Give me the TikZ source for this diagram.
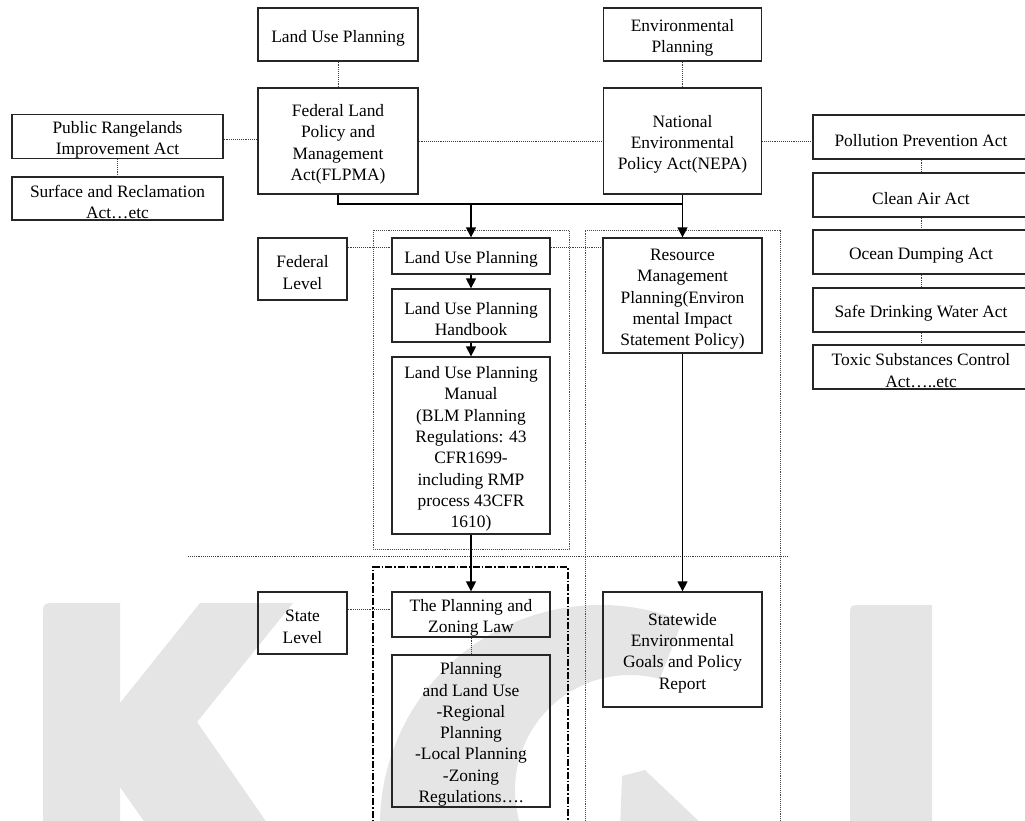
\documentclass[tikz,border=0pt]{standalone}
\usepackage{fontspec}
\setmainfont{Liberation Serif}
\usetikzlibrary{arrows.meta,calc}
\newcommand{\fs}{\rule{0pt}{19pt}}
\begin{document}
\begin{tikzpicture}[x=1pt,y=-1pt,
  box/.style={draw=black!85, line width=1.3pt, align=center, inner sep=0pt,
    font=\fontsize{17.4}{21.3}\selectfont},
  dotline/.style={draw=black!75, line width=0.9pt, densely dotted},
  conn/.style={draw=black, line width=1.4pt},
  arr/.style={conn, -{Triangle[width=10pt,length=10pt]}},
  frame/.style={draw=black!70, line width=0.9pt, densely dotted},
  dashdotframe/.style={draw=black, line width=1.7pt, dash pattern=on 7pt off 2pt on 1.5pt off 2pt},
  wm/.style={fill=gray!20}
]
\useasboundingbox (0,0) rectangle (1025,821);
\clip (0,0) rectangle (1025,821);
% watermark K C I
\fill[wm] (43,830) -- (43,617) .. controls (43,603) .. (57,603) -- (120,603) -- (120,703)
  -- (200,603) -- (293,603) -- (197,722) -- (272,830) -- (150,830) -- (120,787) -- (120,830) -- cycle;
\coordinate (co) at (600,825);
\coordinate (ci) at (630,790);
\fill[wm] ($(co)+(-68:220)$) arc[start angle=-68, end angle=-292, radius=220]
  -- ($(ci)+(-292:115)$) arc[start angle=-292, end angle=-75, radius=115] -- cycle;
\fill[wm] (622,776) -- (645,770) -- (708,830) -- (620,830) -- cycle;
\fill[wm] (850,830) -- (850,617) .. controls (850,605) .. (862,605) -- (932,605) -- (932,830) -- cycle;

% frames
\draw[frame] (373,230) rectangle (569,549);
\draw[frame] (585,830) -- (585,230) -- (780,230) -- (780,830);
\draw[dotline] (188,556) -- (787,556);
\draw[dashdotframe] (373,830) -- (373,567) -- (568,567) -- (568,830);

% nodes
\node[box, minimum width=160, minimum height=53] (lup0) at (338,34.5) {\fs Land Use Planning};
\node[box, minimum width=158, minimum height=53] (envp) at (682.5,34.5) {\fs Environmental\\Planning};
\node[box, minimum width=160, minimum height=106] (flpma) at (338,141) {\fs Federal Land\\Policy and\\Management\\Act(FLPMA)};
\node[box, minimum width=158, minimum height=106] (nepa) at (682.5,141) {\fs National\\Environmental\\Policy Act(NEPA)};
\node[box, minimum width=211, minimum height=43] (pra) at (117.5,136.5) {\fs Public Rangelands\\Improvement Act};
\node[box, minimum width=211, minimum height=43] (surf) at (117.5,198.5) {\fs Surface and Reclamation\\Act…etc};
\node[box, minimum width=216, minimum height=44] (ppa) at (921,137) {\fs Pollution Prevention Act};
\node[box, minimum width=216, minimum height=44] (caa) at (921,195) {\fs Clean Air Act};
\node[box, minimum width=216, minimum height=44] (oda) at (921,252) {\fs Ocean Dumping Act};
\node[box, minimum width=216, minimum height=44] (sdwa) at (921,310) {\fs Safe Drinking Water Act};
\node[box, minimum width=216, minimum height=44] (tsca) at (921,367) {\fs Toxic Substances Control\\Act…..etc};
\node[box, minimum width=89, minimum height=62] (fedlev) at (302.5,269) {\fs Federal\\Level};
\node[box, minimum width=158, minimum height=36] (lupf) at (471,256) {\fs Land Use Planning};
\node[box, minimum width=158, minimum height=53] (luph) at (471,315.5) {\fs Land Use Planning\\Handbook};
\node[box, minimum width=158, minimum height=177] (lupm) at (471,445.5) {\fs Land Use Planning\\Manual\\(BLM Planning\\Regulations: 43\\CFR1699-\\including RMP\\process 43CFR\\1610)};
\node[box, minimum width=159, minimum height=115] (rmp) at (682.5,295.5) {\fs Resource\\Management\\Planning(Environ\\mental Impact\\Statement Policy)};
\node[box, minimum width=89, minimum height=62] (statelev) at (302.5,623) {\fs State\\Level};
\node[box, minimum width=158, minimum height=45] (pzl) at (471,614.5) {\fs The Planning and\\Zoning Law};
\node[box, minimum width=158, minimum height=152] (plu) at (471,731) {\fs Planning\\and Land Use\\-Regional\\Planning\\-Local Planning\\-Zoning\\Regulations….};
\node[box, minimum width=159, minimum height=115] (sw) at (682.5,649.5) {\fs Statewide\\Environmental\\Goals and Policy\\Report};

% dotted connectors
\draw[dotline] (lup0.south) -- (flpma.north);
\draw[dotline] (envp.south) -- (nepa.north);
\draw[dotline] (pra.south) -- (surf.north);
\draw[dotline] ([yshift=-3pt]pra.east) -- ([yshift=-3pt]pra.east -| flpma.west);
\draw[dotline] (flpma.east) -- (nepa.west);
\draw[dotline] (nepa.east) -- (nepa.east -| ppa.west);
\draw[dotline] (ppa.south) -- (caa.north);
\draw[dotline] (caa.south) -- (oda.north);
\draw[dotline] (oda.south) -- (sdwa.north);
\draw[dotline] (sdwa.south) -- (tsca.north);
\draw[dotline] ([yshift=-10pt]fedlev.north east) -- ([yshift=-10pt]fedlev.north east -| lupf.west);
\draw[dotline] ([yshift=-10pt]lupf.north east) -- ([yshift=-10pt]lupf.north east -| rmp.west);
\draw[dotline] ([yshift=-18pt]statelev.north east) -- ([yshift=-18pt]statelev.north east -| pzl.west);
\draw[dotline] (pzl.south) -- (plu.north);

% solid connectors
\coordinate (j1) at (471,204);
\draw[conn] (flpma.south) |- (nepa.south |- j1) -- (nepa.south);
\draw[arr] (j1) -- (lupf.north);
\draw[arr] (nepa.south) -- (rmp.north);
\draw[arr] (lupf.south) -- (luph.north);
\draw[arr] (luph.south) -- (lupm.north);
\draw[arr] (lupm.south) -- (pzl.north);
\draw[arr] (rmp.south) -- (sw.north);
\end{tikzpicture}
\end{document}
